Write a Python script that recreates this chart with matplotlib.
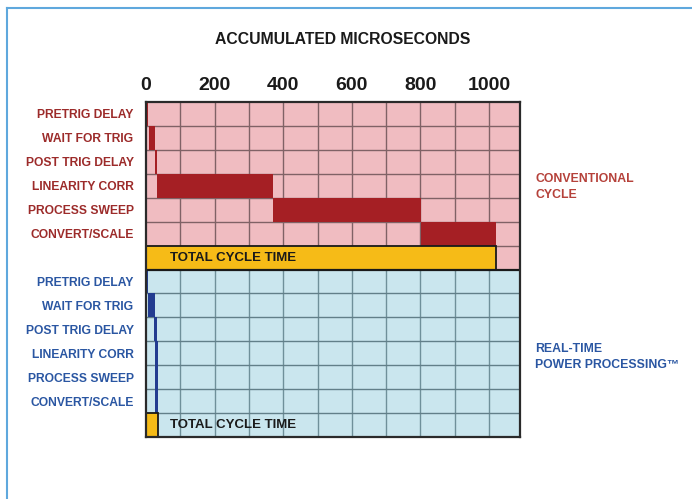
import matplotlib
matplotlib.use("Agg")
import matplotlib.pyplot as plt
from matplotlib.lines import Line2D

# ---- data ----
steps = ["PRETRIG DELAY", "WAIT FOR TRIG", "POST TRIG DELAY", "LINEARITY CORR",
         "PROCESS SWEEP", "CONVERT/SCALE"]
conv_start = [0, 9, 25, 33, 371, 802]
conv_end = [7, 26, 31, 371, 802, 1020]
conv_total = 1020
rt_start = [0, 7, 24, 25, 25, 25]
rt_end = [7, 25, 31, 36, 36, 36]
rt_total = 36
major_ticks = [0, 200, 400, 600, 800, 1000]
grid_ticks = [100, 200, 300, 400, 500, 600, 700, 800, 900, 1000]
total_label = "TOTAL CYCLE TIME"
title = "ACCUMULATED MICROSECONDS"
conv_group = "CONVENTIONAL\nCYCLE"
rt_group = "REAL-TIME\nPOWER PROCESSING\u2122"

# ---- style ----
PINK = "#f0bcc1"
LBLUE = "#cae6ee"
DRED = "#a51f24"
DBLUE = "#233c90"
GOLD = "#f6bb17"
RTEXT = "#9c2b2a"
BTEXT = "#2a56a2"
FRAME = "#5fa8dd"
FONT = ["Liberation Sans", "DejaVu Sans"]

XMAX = 1090
fig = plt.figure(figsize=(6.92, 4.99), dpi=100)
ax = fig.add_axes([146 / 692, 1 - 437 / 499, (520 - 146) / 692, (437 - 102) / 499])

n = len(steps)
nrows = 2 * n + 2
ax.set_xlim(0, XMAX)
ax.set_ylim(nrows - 0.5, -0.5)

# backgrounds
ax.axhspan(-0.5, n + 0.5, color=PINK, zorder=0, lw=0)
ax.axhspan(n + 0.5, nrows - 0.5, color=LBLUE, zorder=0, lw=0)

# grid lines
for g in grid_ticks:
    ax.plot([g, g], [-0.5, n + 0.5], color="#806266", lw=1.0, zorder=1)
    ax.plot([g, g], [n + 0.5, nrows - 0.5], color="#6f909a", lw=1.0, zorder=1)
for r in range(n):
    y = r + 0.5
    ax.plot([0, XMAX], [y, y], color="#806266", lw=1.0, zorder=1)
for r in range(n):
    y = n + 1 + r + 0.5
    ax.plot([0, XMAX], [y, y], color="#627f89", lw=1.0, zorder=1)

# conventional bars
ypos_c = list(range(n))
ax.barh(ypos_c, [e - s for s, e in zip(conv_start, conv_end)], left=conv_start,
        height=1.0, color=DRED, zorder=2, lw=0)
ax.barh([n], [conv_total], left=[0], height=1.0, color=GOLD, edgecolor="#1a1a1a",
        lw=1.3, zorder=3)
ax.text(70, n, total_label, ha="left", va="center", fontsize=9.5, fontweight="bold",
        family=FONT, color="#1a1a1a", zorder=4)

# real-time bars
ypos_r = [n + 1 + i for i in range(n)]
ax.barh(ypos_r, [e - s for s, e in zip(rt_start, rt_end)], left=rt_start,
        height=1.0, color=DBLUE, zorder=2, lw=0)
ax.barh([nrows - 1], [rt_total], left=[0], height=1.0, color=GOLD, edgecolor="#1a1a1a",
        lw=1.3, zorder=3)
ax.text(70, nrows - 1, total_label, ha="left", va="center", fontsize=9.5, fontweight="bold",
        family=FONT, color="#1a1a1a", zorder=4)

# divider between sections
ax.plot([0, XMAX], [n + 0.5, n + 0.5], color="#1a1a1a", lw=1.6, zorder=4)

# axes styling
for s in ax.spines.values():
    s.set_color("#2a2a2a")
    s.set_linewidth(1.6)
    s.set_zorder(5)
ax.xaxis.tick_top()
ax.set_xticks(major_ticks)
ax.set_xticklabels([str(t) for t in major_ticks], fontsize=14, fontweight="bold",
                   family=FONT, color="#1a1a1a")
ax.tick_params(axis="x", length=0, pad=6)
ax.set_yticks(ypos_c + ypos_r)
ax.set_yticklabels(steps + steps, fontsize=8.7, fontweight="bold", family=FONT)
for i, lab in enumerate(ax.get_yticklabels()):
    lab.set_color(RTEXT if i < n else BTEXT)
ax.tick_params(axis="y", length=0, pad=9)

# title & group labels
fig.text(343 / 692, 1 - 40 / 499, title, ha="center", va="center", fontsize=11.3,
         fontweight="bold", family=FONT, color="#1a1a1a")
fig.text(535 / 692, 1 - 187 / 499, conv_group, ha="left", va="center", fontsize=8.8,
         fontweight="bold", family=FONT, color="#b5413a", linespacing=1.4)
fig.text(535 / 692, 1 - 357 / 499, rt_group, ha="left", va="center", fontsize=8.8,
         fontweight="bold", family=FONT, color=BTEXT, linespacing=1.4)

# frame lines
fig.add_artist(Line2D([7 / 692, 7 / 692], [0, 1 - 8 / 499], transform=fig.transFigure,
                      color=FRAME, lw=1.5))
fig.add_artist(Line2D([7 / 692, 1], [1 - 8 / 499, 1 - 8 / 499], transform=fig.transFigure,
                      color=FRAME, lw=1.5))

fig.savefig("out.png", dpi=100)
